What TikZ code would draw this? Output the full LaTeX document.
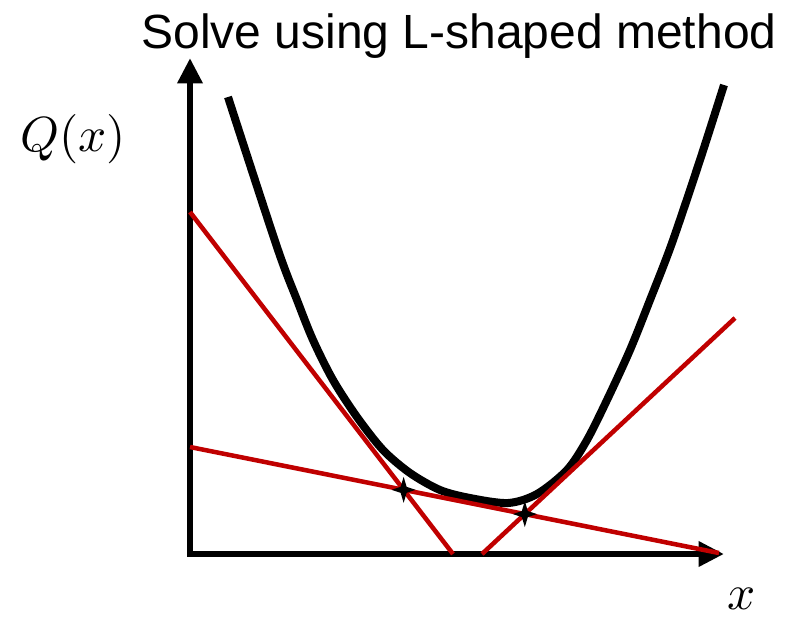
\documentclass[tikz,border=0pt]{standalone}
\usepackage{fontspec}
\setmainfont{Liberation Sans}
\usetikzlibrary{arrows.meta}
\definecolor{cutred}{RGB}{192,0,0}
\begin{document}
\begin{tikzpicture}[x=0.75pt, y=-0.75pt,
  axis/.style={line width=5pt, -{Triangle[length=19pt, width=18pt]}},
  qcurve/.style={line width=6pt},
  cut/.style={line width=3.4pt, draw=cutred},
  lbl/.style={anchor=base, inner sep=0pt}
]
  \useasboundingbox (0,0) rectangle (786,619);

  % Title
  \node[font=\fontsize{36}{40}\selectfont, anchor=base] (title) at (459,48) {Solve using L-shaped method};

  % Axes
  \coordinate (o) at (190,554);
  \coordinate (ytip) at (190,58);
  \coordinate (xtip) at (724,554);
  \draw[axis] (190,556.5) -- (ytip);
  \draw[axis] (187.5,554) -- (xtip);
  \node[lbl] (qlabel) at (73,151) {\scalebox{3.7}{$Q(x)$}};
  \node[lbl] (xlabel) at (742,609) {\scalebox{3.7}{$x$}};

  % Recourse function
  \draw[qcurve] plot[smooth, tension=0.5] coordinates {
    (228,97) (277,247) (297,300) (313,340) (333,380) (357,417)
    (383,450) (410,473) (440,490) (470,498) (508,503) (537,494)
    (567,470) (587,440) (607,400) (630,350) (650,300) (672,243)
    (700,160) (724,85)};

  % Optimality cuts
  \coordinate (c1a) at (190,212);
  \coordinate (c1b) at (453,554);
  \coordinate (c2a) at (190,447);
  \coordinate (c2b) at (719,553);
  \coordinate (c3a) at (482,554);
  \coordinate (c3b) at (735,318);
  \draw[cut] (c1a) -- (c1b);
  \draw[cut] (c2a) -- (c2b);
  \draw[cut] (c3a) -- (c3b);

  % Iterates
  \coordinate (s1) at (intersection of c1a--c1b and c2a--c2b);
  \coordinate (s2) at (intersection of c2a--c2b and c3a--c3b);
  \foreach \s in {s1,s2}
    \fill (\s) +(0,-13) -- +(3,-3) -- +(12,0) -- +(3,3) -- +(0,13)
      -- +(-3,3) -- +(-12,0) -- +(-3,-3) -- cycle;
\end{tikzpicture}
\end{document}
